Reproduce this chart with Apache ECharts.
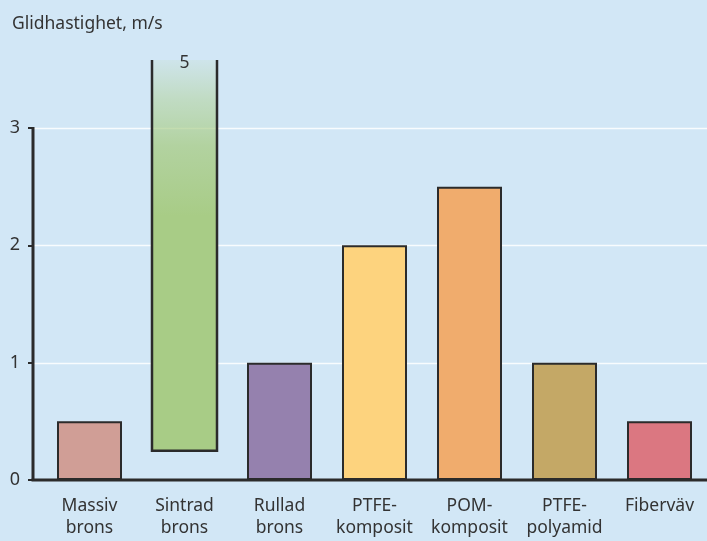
<!DOCTYPE html>
<html>
<head>
<meta charset="utf-8">
<script src="https://cdn.jsdelivr.net/npm/echarts@6/dist/echarts.min.js"></script>
<style>
  html, body { margin: 0; padding: 0; background: #d2e7f6; }
  #chart { width: 707px; height: 541px; }
</style>
</head>
<body>
<div id="chart"></div>
<script>
// Sliding speed per bearing material (m/s)
const categories = ['Massiv\nbrons', 'Sintrad\nbrons', 'Rullad\nbrons', 'PTFE-\nkomposit', 'POM-\nkomposit', 'PTFE-\npolyamid', 'Fiberväv'];
const maxSpeed = [0.5, 5, 1, 2, 2.5, 1, 0.5];
const minSpeed = [0, 0.25, 0, 0, 0, 0, 0];
const barColors = ['#d09e96', '#a8cc86', '#9581ae', '#fdd37e', '#f0ac6d', '#c4a866', '#db7781'];
const yTicks = [0, 1, 2, 3];

// The sintered bronze bar has an open (broken) top, drawn as a custom series
const SPLIT_INDEX = 1;

const FONT = '"Noto Sans", sans-serif';
const INK = '#2b2b2b';
const GRID_LEFT = 42;
const AXIS_SHIFT = 9;
const BAR_W = 65;

const chart = echarts.init(document.getElementById('chart'), null, { renderer: 'canvas' });

const plainBars = maxSpeed.map((v, i) => i === SPLIT_INDEX ? null : {
  value: v,
  itemStyle: { color: barColors[i] }
});

const option = {
  backgroundColor: '#d2e7f6',
  animation: false,
  title: {
    text: 'Glidhastighet, m/s',
    left: 7, top: 10,
    textStyle: { fontFamily: FONT, fontSize: 17.5, fontWeight: 'normal', color: '#333' }
  },
  grid: { left: GRID_LEFT, right: -1, top: 60, bottom: 61, containLabel: false },
  xAxis: {
    type: 'category',
    data: categories,
    axisLine: { show: false },
    axisTick: { show: false },
    axisLabel: {
      margin: 15, fontFamily: FONT, fontSize: 17.5, color: '#333', lineHeight: 22, interval: 0
    }
  },
  yAxis: {
    type: 'value',
    min: 0, max: 3.58, interval: 1,
    offset: AXIS_SHIFT,
    axisLine: { show: true, lineStyle: { color: INK, opacity: 0 } },
    axisTick: { show: true, length: 5, customValues: yTicks, lineStyle: { color: INK, width: 2 } },
    axisLabel: {
      customValues: yTicks, margin: 13,
      fontFamily: FONT, fontSize: 18, color: '#333'
    },
    splitLine: { show: false }
  },
  series: [
    {
      type: 'bar',
      data: plainBars,
      barWidth: BAR_W,
      itemStyle: { borderColor: INK, borderWidth: 2 },
      z: 3
    },
    {
      type: 'custom',
      z: 4,
      data: [[SPLIT_INDEX, minSpeed[SPLIT_INDEX], maxSpeed[SPLIT_INDEX]]],
      renderItem: function (params, api) {
        const cat = api.value(0);
        const bottom = api.coord([cat, api.value(1)]);
        const top = api.coord([cat, api.value(2)]);
        const cs = params.coordSys;
        const yTop = Math.max(top[1], cs.y);
        const x0 = bottom[0] - BAR_W / 2;
        const x1 = bottom[0] + BAR_W / 2;
        return {
          type: 'group',
          children: [
            {
              type: 'rect',
              shape: { x: x0, y: yTop, width: BAR_W, height: bottom[1] - yTop },
              style: {
                fill: new echarts.graphic.LinearGradient(0, 0, 0, 1, [
                  { offset: 0, color: 'rgba(178,208,150,0.12)' },
                  { offset: 0.1, color: 'rgba(175,208,145,0.5)' },
                  { offset: 0.22, color: 'rgba(170,205,138,0.8)' },
                  { offset: 0.4, color: barColors[SPLIT_INDEX] },
                  { offset: 1, color: barColors[SPLIT_INDEX] }
                ])
              }
            },
            {
              type: 'polyline',
              shape: { points: [[x0, yTop], [x0, bottom[1]], [x1, bottom[1]], [x1, yTop]] },
              style: { fill: null, stroke: INK, lineWidth: 2.5 }
            },
            {
              type: 'text',
              style: {
                text: String(api.value(2)),
                x: bottom[0], y: yTop - 6,
                align: 'center', verticalAlign: 'top',
                font: '17.5px ' + FONT, fill: '#333'
              }
            }
          ]
        };
      }
    }
  ]
};

chart.setOption(option);

// Gridlines and axis lines, placed from the value scale
function drawAxes() {
  const y0 = chart.convertToPixel({ yAxisIndex: 0 }, 0);
  const yTop = chart.convertToPixel({ yAxisIndex: 0 }, yTicks[yTicks.length - 1]);
  const ax = GRID_LEFT - AXIS_SHIFT;
  const grid = yTicks.slice(1).map(v => {
    const y = Math.round(chart.convertToPixel({ yAxisIndex: 0 }, v)) + 0.5;
    return {
      type: 'line', z: 0,
      shape: { x1: ax, y1: y, x2: 707, y2: y },
      style: { stroke: 'rgba(255,255,255,0.85)', lineWidth: 1.5 }
    };
  });
  chart.setOption({
    graphic: grid.concat([
      {
        type: 'line', z: 10,
        shape: { x1: ax, y1: yTop - 1, x2: ax, y2: y0 },
        style: { stroke: INK, lineWidth: 3 }
      },
      {
        type: 'line', z: 10,
        shape: { x1: ax - 1.5, y1: y0, x2: 707, y2: y0 },
        style: { stroke: INK, lineWidth: 3 }
      }
    ])
  });
}
drawAxes();
</script>
</body>
</html>
